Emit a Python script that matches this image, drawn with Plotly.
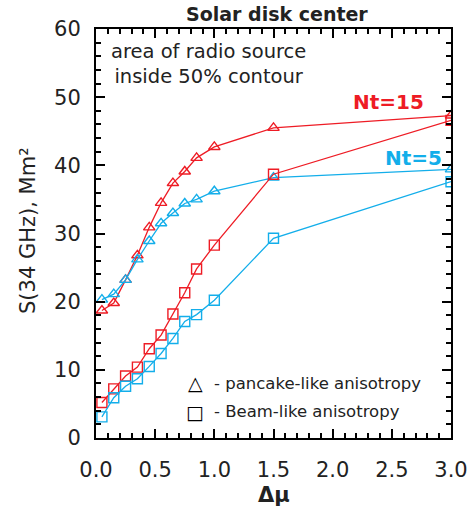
import plotly.graph_objects as go

# Data
dmu = [0.05, 0.15, 0.25, 0.35, 0.45, 0.55, 0.65, 0.75, 0.85, 1.0, 1.5, 3.0]
tri_nt15 = [18.7, 19.8, 23.2, 26.8, 30.9, 34.5, 37.4, 39.1, 41.1, 42.7, 45.5, 47.3]
tri_nt5 = [20.3, 21.1, 23.2, 26.2, 28.9, 31.5, 33.0, 34.4, 35.0, 36.2, 38.2, 39.4]
sq_nt15 = [5.2, 7.2, 9.1, 10.4, 13.1, 15.1, 18.2, 21.3, 24.8, 28.3, 38.7, 46.6]
sq_nt5 = [3.1, 5.9, 7.6, 8.7, 10.5, 12.4, 14.6, 17.1, 18.1, 20.2, 29.3, 37.6]

legend_symbols = ["△", "□"]
legend_labels = ["- pancake-like anisotropy", "- Beam-like anisotropy"]

x_major_step, x_minor_step = 0.5, 0.1
y_major_step, y_minor_step = 10, 2

RED = "#EE1C25"
BLUE = "#13AEEA"
INK = "#222222"
FONT = "DejaVu Sans"

# plot-area pixel geometry
L, R, T, B = 96, 451, 29, 438
W, H = 471, 514


def px(xp):
    return (xp - L) / (R - L)


def py(yp):
    return (B - yp) / (B - T)


fig = go.Figure()

series = [
    (tri_nt15, RED, "triangle-up-open"),
    (tri_nt5, BLUE, "triangle-up-open"),
    (sq_nt15, RED, "square-open"),
    (sq_nt5, BLUE, "square-open"),
]
for ys, col, sym in series:
    fig.add_trace(go.Scatter(
        x=dmu, y=ys, mode="lines+markers",
        line=dict(color=col, width=1.3),
        marker=dict(symbol=sym, size=10, color=col, line=dict(color=col, width=1.4)),
        showlegend=False,
    ))

fig.update_layout(
    font=dict(family=FONT, size=21, color=INK),
    xaxis=dict(range=[0, 3], dtick=x_major_step, tickformat=".1f",
               showline=True, linecolor="black", linewidth=2, mirror="allticks",
               ticks="inside", ticklen=9, tickwidth=2, tickcolor="black",
               showgrid=False, zeroline=False, ticklabelstandoff=12, automargin=False,
               minor=dict(dtick=x_minor_step, ticks="inside", ticklen=5, tickwidth=1.5,
                          tickcolor="black", showgrid=False)),
    yaxis=dict(range=[0, 60], dtick=y_major_step,
               showline=True, linecolor="black", linewidth=2, mirror="allticks",
               ticks="inside", ticklen=9, tickwidth=2, tickcolor="black",
               showgrid=False, zeroline=False, ticklabelstandoff=9, automargin=False,
               minor=dict(dtick=y_minor_step, ticks="inside", ticklen=5, tickwidth=1.5,
                          tickcolor="black", showgrid=False)),
    showlegend=False,
)

fig.add_annotation(text="<b>Solar disk center</b>", xref="paper", yref="paper",
                   x=px(277), y=py(14), xanchor="center", yanchor="middle", showarrow=False,
                   font=dict(family=FONT, size=19, color=INK))
fig.add_annotation(text="area of radio source<br>inside 50% contour", xref="paper", yref="paper",
                   x=px(208), y=py(64), xanchor="center", yanchor="middle", showarrow=False,
                   font=dict(family=FONT, size=19.5, color=INK), align="center")
fig.add_annotation(text="<b>Nt=15</b>", xref="paper", yref="paper",
                   x=px(388), y=py(102), xanchor="center", yanchor="middle", showarrow=False,
                   font=dict(family=FONT, size=20, color=RED))
fig.add_annotation(text="<b>Nt=5</b>", xref="paper", yref="paper",
                   x=px(413), y=py(158), xanchor="center", yanchor="middle", showarrow=False,
                   font=dict(family=FONT, size=20, color=BLUE))
fig.add_annotation(text="S(34 GHz), Mm²", xref="paper", yref="paper",
                   x=px(28), y=py(231), xanchor="center", yanchor="middle", textangle=-90,
                   showarrow=False, font=dict(family=FONT, size=21, color=INK))
fig.add_annotation(text="<b>Δμ</b>", xref="paper", yref="paper",
                   x=px(274), y=py(495), xanchor="center", yanchor="middle", showarrow=False,
                   font=dict(family=FONT, size=21, color=INK))

# symbol key (text annotations)
for i, (sym, lab) in enumerate(zip(legend_symbols, legend_labels)):
    yp = 383 + 28.5 * i
    fig.add_annotation(text="<b>" + sym + "</b>", xref="paper", yref="paper",
                       x=px(195), y=py(yp), xanchor="center", yanchor="middle",
                       showarrow=False, font=dict(family=FONT, size=19, color="black"))
    fig.add_annotation(text=lab, xref="paper", yref="paper",
                       x=px(212), y=py(yp), xanchor="left", yanchor="middle",
                       showarrow=False, font=dict(family=FONT, size=16.5, color=INK))

fig.update_layout(
    width=W, height=H,
    margin=dict(l=L, r=W - R, t=T, b=H - B, pad=0),
    paper_bgcolor="white", plot_bgcolor="white",
)

fig.write_html("out.html")
